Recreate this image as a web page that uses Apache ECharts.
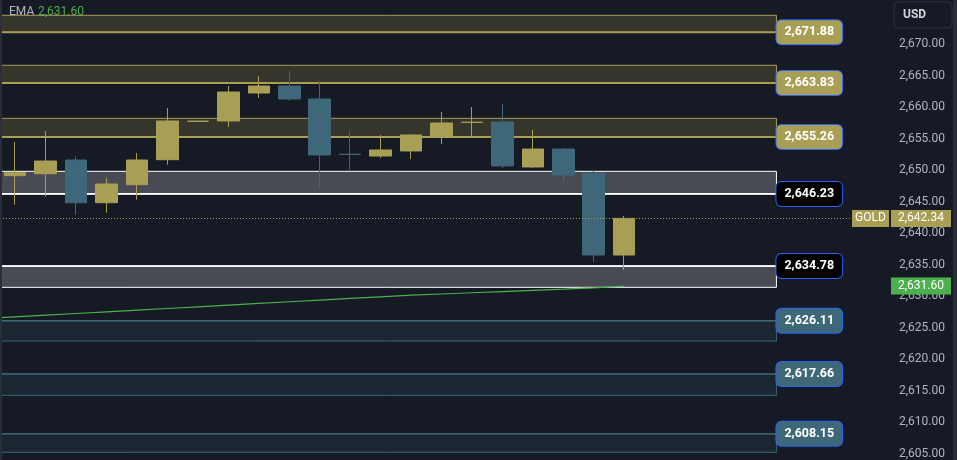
<!DOCTYPE html>
<html>
<head>
<meta charset="utf-8">
<script src="https://cdn.jsdelivr.net/npm/echarts@6/dist/echarts.min.js"></script>
<style>
  html, body { margin: 0; padding: 0; background: #161a25; }
  #chart { width: 957px; height: 460px; }
</style>
</head>
<body>
<div id="chart"></div>
<script>
// ---- data ----
const categories = ['01','02','03','04','05','06','07','08','09','10','11','12','13','14','15','16','17','18','19','20','21','22','23','24','25','26','27','28','29'];
const opens  = [2649.12, 2649.43, 2651.61, 2644.83, 2647.69, 2651.66, 2657.74, 2657.80, 2662.24, 2663.35, 2661.29, 2652.53, 2652.24, 2653.04, 2655.31, 2657.57, 2657.64, 2650.50, 2653.35, 2649.55, 2636.53];
const closes = [2649.59, 2651.45, 2644.83, 2647.80, 2651.61, 2657.80, 2657.78, 2662.40, 2663.35, 2661.29, 2652.40, 2652.49, 2653.20, 2655.58, 2657.48, 2657.61, 2650.66, 2653.35, 2649.23, 2636.53, 2642.34];
const lows   = [2644.51, 2645.78, 2642.93, 2643.25, 2645.31, 2650.86, 2657.74, 2656.85, 2661.45, 2660.97, 2647.21, 2650.02, 2651.93, 2651.77, 2654.15, 2655.31, 2650.34, 2650.34, 2648.12, 2635.42, 2634.15];
const highs  = [2654.47, 2656.21, 2652.24, 2648.75, 2652.72, 2659.86, 2657.78, 2663.35, 2664.94, 2665.73, 2664.15, 2656.21, 2655.58, 2655.73, 2659.23, 2660.02, 2660.50, 2656.37, 2653.51, 2649.86, 2642.72];

const emaX    = [-0.5, 0, 1, 2, 3, 4, 5, 6, 7, 8, 9, 10, 11, 12, 13, 14, 15, 16, 17, 18, 19, 20];
const emaVals = [2626.58, 2626.72, 2626.98, 2627.25, 2627.51, 2627.78, 2628.04, 2628.31, 2628.57, 2628.84, 2629.11, 2629.37, 2629.64, 2629.90, 2630.15, 2630.34, 2630.54, 2630.73, 2630.93, 2631.12, 2631.32, 2631.60];
const emaLast = 2631.60;

const zoneTop    = [2674.57, 2666.64, 2658.22, 2649.81, 2634.78, 2626.11, 2617.66, 2608.15];
const zoneBottom = [2671.88, 2663.83, 2655.26, 2646.23, 2631.40, 2622.88, 2614.27, 2605.22];
const zoneLevel  = [2671.88, 2663.83, 2655.26, 2646.23, 2634.78, 2626.11, 2617.66, 2608.15];
const zoneKind   = ['resist', 'resist', 'resist', 'pivot', 'pivot', 'support', 'support', 'support'];

const symbolName = 'GOLD';
const currency = 'USD';
const lastPrice = closes[closes.length - 1];

const yMin = 2604, yMax = 2677, yStep = 5;

// ---- styles ----
const UP = '#a89f55', DOWN = '#3e6779';
const FONT = 'Roboto, "Noto Sans", sans-serif';
const ZONE_STYLE = {
  resist:  { fill: '#35352c', line: '#a89f55', bg: '#a89f55', lw: 1.8 },
  pivot:   { fill: '#484a54', line: '#ffffff', bg: '#000000', lw: 1.8 },
  support: { fill: '#1c2632', line: '#3e6778', bg: '#3e6778', lw: 1.4 }
};
const ZONE_X0 = -0.5, ZONE_X1 = 25;

function fmt(v) {
  const s = v.toFixed(2);
  const [i, d] = s.split('.');
  return i.replace(/\B(?=(\d{3})+(?!\d))/g, ',') + '.' + d;
}

const chart = echarts.init(document.getElementById('chart'), null, { renderer: 'canvas' });

const candleData = opens.map((o, i) => [o, closes[i], lows[i], highs[i]]);
const emaData = emaX.map((x, i) => [x, emaVals[i]]);
const zoneData = zoneTop.map((t, i) => [ZONE_X0, ZONE_X1, t, zoneBottom[i], zoneLevel[i]]);

const option = {
  backgroundColor: '#161a25',
  animation: false,
  grid: { left: 0, top: 0, width: 883, height: 460 },
  xAxis: [
    { type: 'category', data: categories, boundaryGap: true, show: false },
    { type: 'value', min: -0.5, max: categories.length - 0.5, show: false }
  ],
  yAxis: {
    type: 'value', position: 'right', min: yMin, max: yMax, interval: 1,
    axisLine: { show: false }, axisTick: { show: false }, splitLine: { show: false },
    axisLabel: {
      margin: 16, color: '#b2b5be', fontSize: 12, fontFamily: FONT,
      formatter: v => (Math.abs(v / yStep - Math.round(v / yStep)) < 1e-6 ? fmt(v) : '')
    }
  },
  series: [
    {
      type: 'custom', xAxisIndex: 1, yAxisIndex: 0, z: 1,
      encode: { x: [0, 1], y: [2, 3, 4] },
      data: zoneData,
      renderItem: function (params, api) {
        const i = params.dataIndex;
        const st = ZONE_STYLE[zoneKind[i]];
        const p1 = api.coord([api.value(0), api.value(2)]);
        const p2 = api.coord([api.value(1), api.value(3)]);
        const ly = api.coord([api.value(1), api.value(4)])[1];
        return {
          type: 'group',
          children: [
            { type: 'rect', shape: { x: p1[0], y: p1[1], width: p2[0] - p1[0], height: p2[1] - p1[1] },
              style: { fill: st.fill, stroke: st.line, lineWidth: 1 } },
            { type: 'line', shape: { x1: p1[0], y1: ly, x2: p2[0], y2: ly },
              style: { stroke: st.line, lineWidth: st.lw } },
            { type: 'text', x: p2[0], y: ly, z2: 10,
              style: {
                text: fmt(api.value(4)), fill: '#ffffff', font: 'bold 12.5px ' + FONT,
                align: 'left', verticalAlign: 'middle',
                backgroundColor: st.bg, borderColor: '#2962ff', borderWidth: 1, borderRadius: 5,
                padding: [6, 8, 5, 8], lineHeight: 13
              } }
          ]
        };
      }
    },
    {
      type: 'line', xAxisIndex: 1, yAxisIndex: 0, z: 2,
      data: emaData, showSymbol: false, symbol: 'none',
      lineStyle: { color: '#4caf50', width: 1.2 }
    },
    {
      type: 'candlestick', xAxisIndex: 0, yAxisIndex: 0, z: 3,
      data: candleData, barWidth: 22,
      itemStyle: { color: UP, color0: DOWN, borderColor: UP, borderColor0: DOWN, borderWidth: 1 },
      markLine: {
        silent: true, symbol: 'none', label: { show: false },
        lineStyle: { color: UP, type: [1, 2], width: 1 },
        data: [{ yAxis: lastPrice }]
      }
    }
  ]
};
chart.setOption(option);

const yLast = chart.convertToPixel({ yAxisIndex: 0 }, lastPrice);
const yEma = chart.convertToPixel({ yAxisIndex: 0 }, emaLast);

function axisBox(y, text, fill, x, w) {
  return [
    { type: 'rect', shape: { x: x, y: y - 8.5, width: w, height: 17 }, style: { fill: fill }, z: 100 },
    { type: 'text', x: x + w / 2, y: y, z: 101,
      style: { text: text, fill: '#ffffff', font: '12px ' + FONT, align: 'center', verticalAlign: 'middle' } }
  ];
}

chart.setOption({
  graphic: [
    { type: 'rect', shape: { x: 0, y: 0, width: 2, height: 460 }, style: { fill: '#2a2e39' }, z: 100 },
    { type: 'rect', shape: { x: 953, y: 0, width: 4, height: 460 }, style: { fill: '#2a2e39' }, z: 100 },
    { type: 'text', x: 9, y: 12, z: 100,
      style: { text: 'EMA', fill: '#b2b5be', font: '12px ' + FONT, verticalAlign: 'middle' } },
    { type: 'text', x: 38, y: 12, z: 100,
      style: { text: fmt(emaLast), fill: '#4caf50', font: '12px ' + FONT, verticalAlign: 'middle' } },
    { type: 'rect', shape: { x: 894, y: 2, width: 58, height: 26, r: 4 },
      style: { fill: '#161a25', stroke: '#2f3341', lineWidth: 1 }, z: 100 },
    { type: 'text', x: 903, y: 15, z: 101,
      style: { text: currency, fill: '#d1d4dc', font: 'bold 12px ' + FONT, verticalAlign: 'middle' } },
    ...axisBox(yLast, symbolName, UP, 852, 37),
    ...axisBox(yLast, fmt(lastPrice), UP, 891, 60),
    ...axisBox(yEma, fmt(emaLast), '#4caf50', 891, 60)
  ]
});
</script>
</body>
</html>
